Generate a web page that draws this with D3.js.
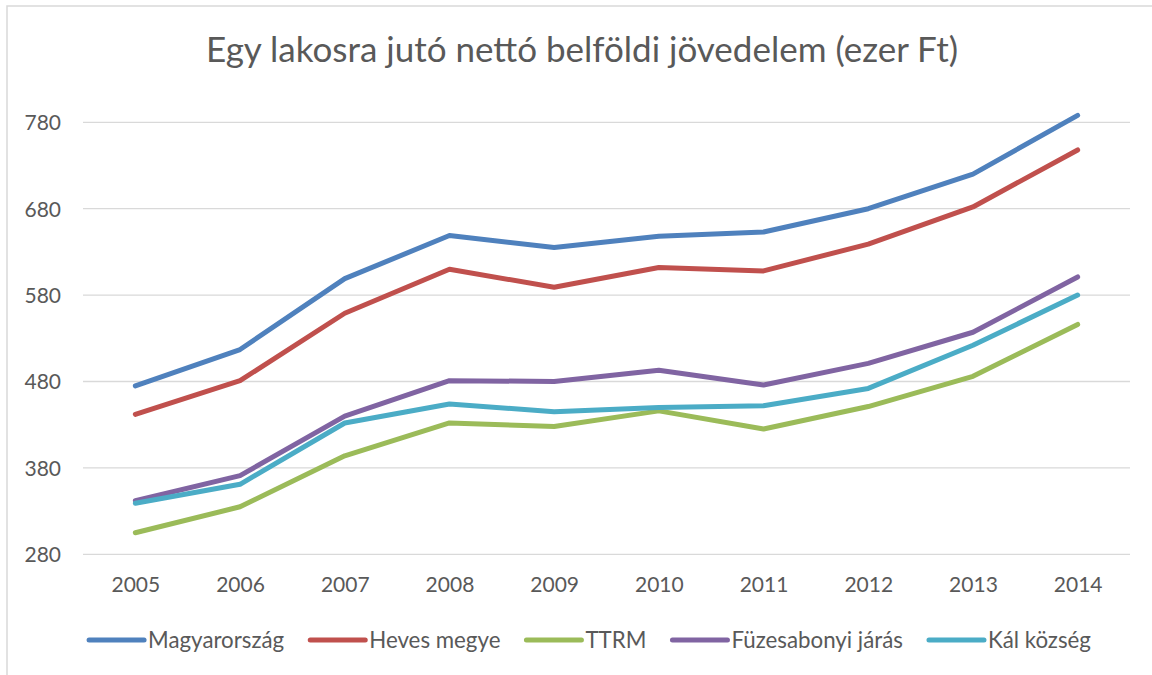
<!DOCTYPE html>
<html>
<head>
<meta charset="utf-8">
<script src="https://cdn.jsdelivr.net/npm/d3@7"></script>
<style>
  html, body { margin: 0; padding: 0; background: #fff; }
  svg { display: block; }
  text { font-family: Lato, "Liberation Sans", sans-serif; fill: #595959; }
</style>
</head>
<body>
<svg id="chart" width="1152" height="675"></svg>
<script>
const years = ["2005","2006","2007","2008","2009","2010","2011","2012","2013","2014"];
const seriesNames = ["Magyarország","Heves megye","TTRM","Füzesabonyi járás","Kál község"];
const magyarorszag = [475, 517, 599, 649, 635, 648, 653, 680, 720, 788];
const hevesMegye   = [442, 481, 559, 610, 589, 612, 608, 639, 682, 748];
const ttrm         = [305, 335, 394, 432, 428, 446, 425, 451, 486, 546];
const fuzesabonyi  = [342, 371, 440, 481, 480, 493, 476, 501, 537, 601];
const kalKozseg    = [339, 361, 432, 454, 445, 450, 452, 472, 522, 580];
const yTicks = [280, 380, 480, 580, 680, 780];
const colors = ["#4F81BD", "#C0504D", "#9BBB59", "#8064A2", "#4BACC6"];
const title = "Egy lakosra jutó nettó belföldi jövedelem (ezer Ft)";

const allSeries = [magyarorszag, hevesMegye, ttrm, fuzesabonyi, kalKozseg];

const svg = d3.select("#chart");
const W = 1152, H = 675;
const plot = { left: 83, right: 1130, top: 122.3, bottom: 554.3 };

// outer chart border
svg.append("rect")
  .attr("x", 7).attr("y", 6)
  .attr("width", W + 20).attr("height", H + 20)
  .attr("fill", "none").attr("stroke", "#d9d9d9").attr("stroke-width", 1.5);

const x = d3.scalePoint().domain(years).range([plot.left, plot.right]).padding(0.5);
const y = d3.scaleLinear().domain([280, 780]).range([plot.bottom, plot.top]);

// gridlines
svg.append("g")
  .selectAll("line")
  .data(yTicks)
  .join("line")
  .attr("x1", plot.left).attr("x2", plot.right)
  .attr("y1", d => y(d)).attr("y2", d => y(d))
  .attr("stroke", "#d9d9d9").attr("stroke-width", 1.3);

// y axis labels
const yAxis = d3.axisLeft(y).tickValues(yTicks).tickSize(0).tickPadding(0);
const gy = svg.append("g").attr("transform", `translate(61,0)`).call(yAxis);
gy.select(".domain").remove();
gy.selectAll("text").attr("font-size", 21).attr("fill", "#595959")
  .style("font-family", "Lato, 'Liberation Sans', sans-serif").attr("dy", "0.35em");

// x axis labels
const xAxis = d3.axisBottom(x).tickSize(0).tickPadding(0);
const gx = svg.append("g").attr("transform", `translate(0,577)`).call(xAxis);
gx.select(".domain").remove();
gx.selectAll("text").attr("font-size", 21).attr("fill", "#595959")
  .style("font-family", "Lato, 'Liberation Sans', sans-serif").attr("dy", "0.71em");

// lines
const line = d3.line().x((d, i) => x(years[i])).y(d => y(d));
svg.append("g")
  .selectAll("path")
  .data(allSeries)
  .join("path")
  .attr("d", d => line(d))
  .attr("fill", "none")
  .attr("stroke", (d, i) => colors[i])
  .attr("stroke-width", 5)
  .attr("stroke-linejoin", "round")
  .attr("stroke-linecap", "round");

// title
svg.append("text")
  .attr("x", 582).attr("y", 62)
  .attr("text-anchor", "middle")
  .attr("font-size", 35)
  .text(title);

// legend
const legend = svg.append("g");
const swatchW = 55, gapText = 4, gapItem = 26, fs = 22.3;
const items = legend.selectAll("g").data(seriesNames).join("g");
items.append("line")
  .attr("x1", 0).attr("x2", swatchW).attr("y1", 0).attr("y2", 0)
  .attr("stroke", (d, i) => colors[i]).attr("stroke-width", 5).attr("stroke-linecap", "round");
items.append("text")
  .attr("x", swatchW + gapText).attr("y", 0).attr("dy", "0.35em")
  .attr("font-size", fs)
  .text(d => d);
let cx = 0;
const offsets = [];
items.each(function () {
  const tw = d3.select(this).select("text").node().getComputedTextLength();
  offsets.push(cx);
  cx += swatchW + gapText + tw + gapItem;
});
const totalW = cx - gapItem;
const startX = 590 - totalW / 2;
items.attr("transform", (d, i) => `translate(${startX + offsets[i]},640)`);
</script>
</body>
</html>
